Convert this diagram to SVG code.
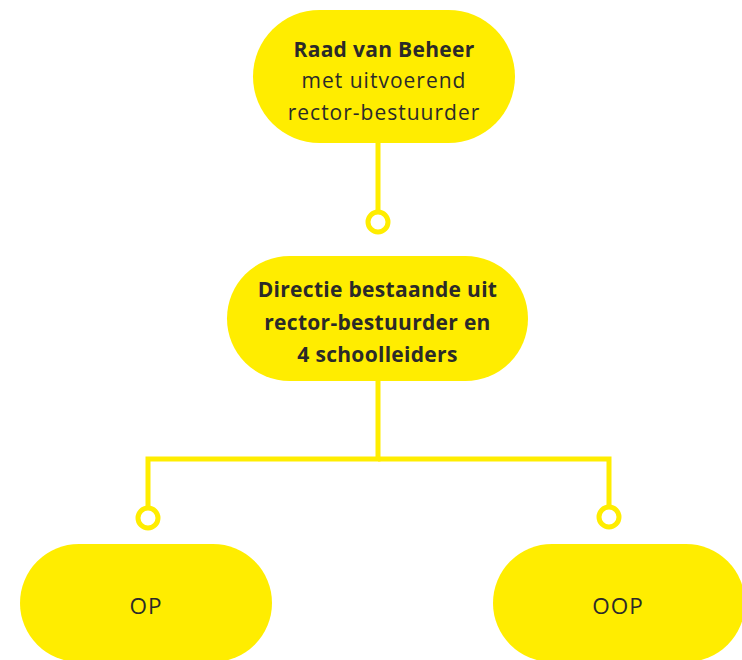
<svg xmlns="http://www.w3.org/2000/svg" width="742" height="660" viewBox="0 0 742 660">
<style>
.node{fill:#FFED00}
.t{font-family:"Open Sans","Liberation Sans",sans-serif;font-size:21px;fill:#2b2a29;text-anchor:middle;letter-spacing:1px}
.b{font-weight:700;letter-spacing:0.3px}
.l{font-size:22.5px}
.c{fill:none;stroke:#FFED00;stroke-width:5}
.dot{fill:#fff;stroke:#FFED00;stroke-width:5}
</style>
<rect width="742" height="660" fill="#fff"/>
<g id="connectors">
<line class="c" x1="378" y1="140" x2="378" y2="212"/>
<polyline class="c" points="378,381 378,459 148,459 148,508"/>
<polyline class="c" points="378,459 609,459 609,507"/>
<circle class="dot" cx="378" cy="222" r="10"/>
<circle class="dot" cx="148" cy="518" r="10"/>
<circle class="dot" cx="609" cy="517" r="10"/>
</g>
<g id="raad">
<rect class="node" x="253" y="10" width="262" height="133" rx="66.5"/>
<text class="t b" x="384" y="57">Raad van Beheer</text>
<text class="t" x="384" y="88">met uitvoerend</text>
<text class="t" x="384" y="120">rector-bestuurder</text>
</g>
<g id="directie">
<rect class="node" x="227" y="256" width="301" height="125" rx="62.5"/>
<text class="t b" x="377.5" y="297">Directie bestaande uit</text>
<text class="t b" x="377.5" y="330">rector-bestuurder en</text>
<text class="t b" x="377.5" y="362">4 schoolleiders</text>
</g>
<g id="op">
<rect class="node" x="20" y="544" width="252" height="118" rx="59"/>
<text class="t l" x="146" y="614">OP</text>
</g>
<g id="oop">
<rect class="node" x="493" y="544" width="252" height="118" rx="59"/>
<text class="t l" x="618" y="614">OOP</text>
</g>
</svg>
